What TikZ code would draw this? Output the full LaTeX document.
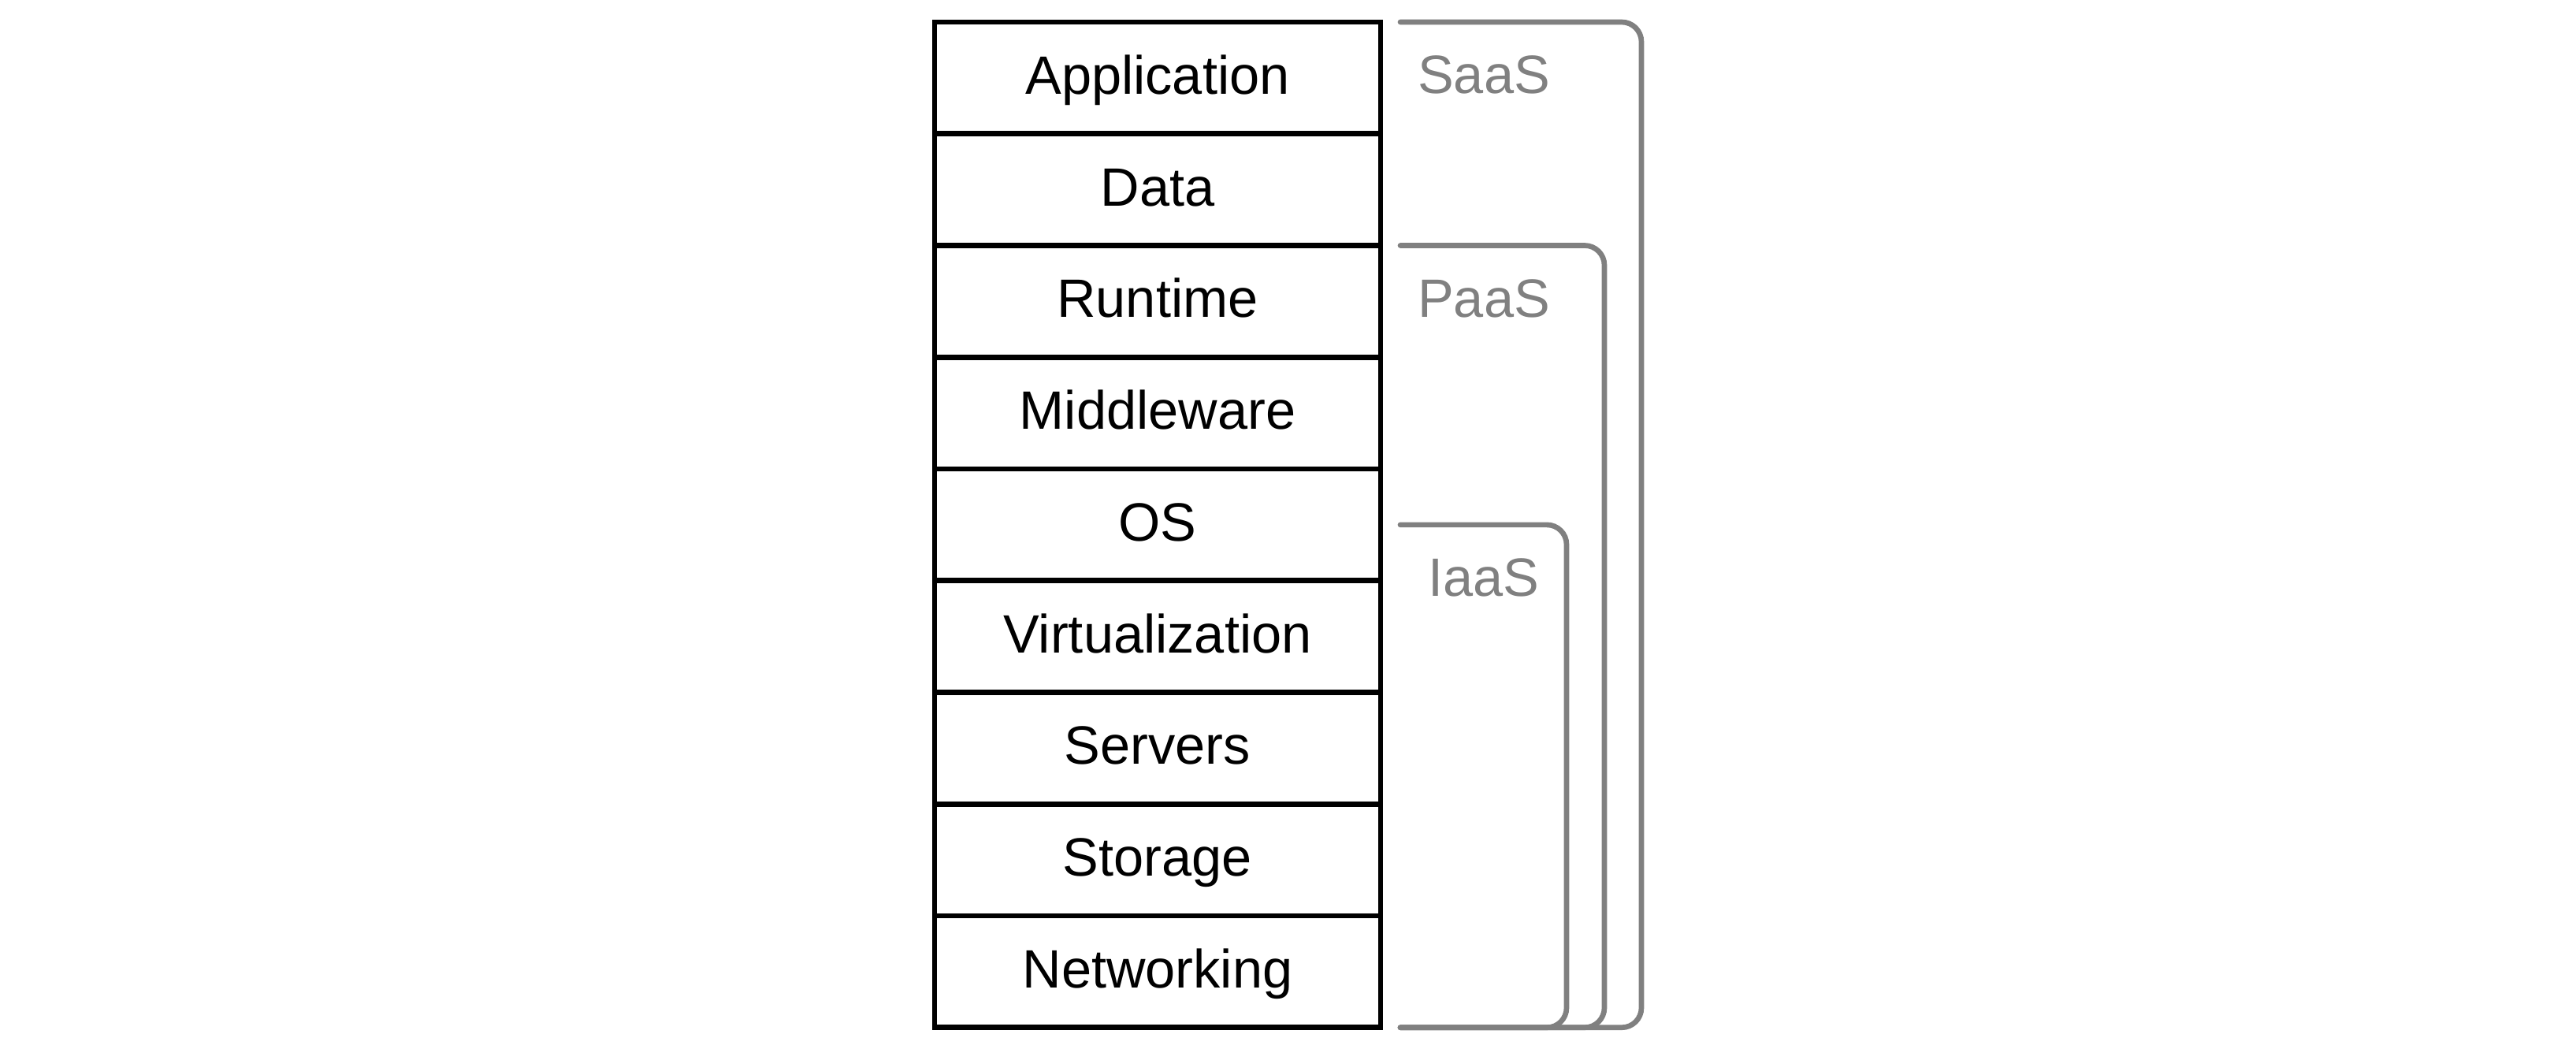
\documentclass[tikz,border=0pt]{standalone}
\usepackage{fontspec}
\setmainfont{Liberation Sans}
\usetikzlibrary{positioning}
\definecolor{tierGray}{HTML}{808080}
\tikzset{
  layer/.style={draw, line width=1.9pt, minimum width=5.66cm, minimum height=1.4175cm,
    outer sep=0pt, inner sep=0pt, text height=0.41cm, text depth=0pt,
    font=\fontsize{19.5}{23}\selectfont},
  bracket/.style={draw=tierGray, line width=1.9pt, line cap=round, rounded corners=0.25cm},
  tier/.style={text=tierGray, anchor=base, font=\fontsize{19.5}{23}\selectfont}
}
\begin{document}
\begin{tikzpicture}
  \useasboundingbox (0,0) rectangle (32.69,-13.31);
  \node[layer, anchor=north west] (app) at (11.86,-0.28) {Application};
  \node[layer, below=0pt of app] (data) {Data};
  \node[layer, below=0pt of data] (run) {Runtime};
  \node[layer, below=0pt of run] (mid) {Middleware};
  \node[layer, below=0pt of mid] (os) {OS};
  \node[layer, below=0pt of os] (virt) {Virtualization};
  \node[layer, below=0pt of virt] (srv) {Servers};
  \node[layer, below=0pt of srv] (store) {Storage};
  \node[layer, below=0pt of store] (net) {Networking};

  \coordinate (saas) at ([xshift=0.25cm]app.north east);
  \coordinate (paas) at ([xshift=0.25cm]run.north east);
  \coordinate (iaas) at ([xshift=0.25cm]os.east);
  \coordinate (base) at ([xshift=0.25cm]net.south east);

  \draw[bracket] (saas) -- ++(3.06,0) |- (base);
  \draw[bracket] (paas) -- ++(2.59,0) |- (base);
  \draw[bracket] (iaas) -- ++(2.11,0) |- (base);

  \node[tier] (saasLbl) at ([xshift=1.06cm, yshift=-0.91cm]saas) {SaaS};
  \node[tier] (paasLbl) at ([xshift=1.06cm, yshift=-0.91cm]paas) {PaaS};
  \node[tier] (iaasLbl) at ([xshift=1.06cm, yshift=-0.91cm]iaas) {IaaS};
\end{tikzpicture}
\end{document}
